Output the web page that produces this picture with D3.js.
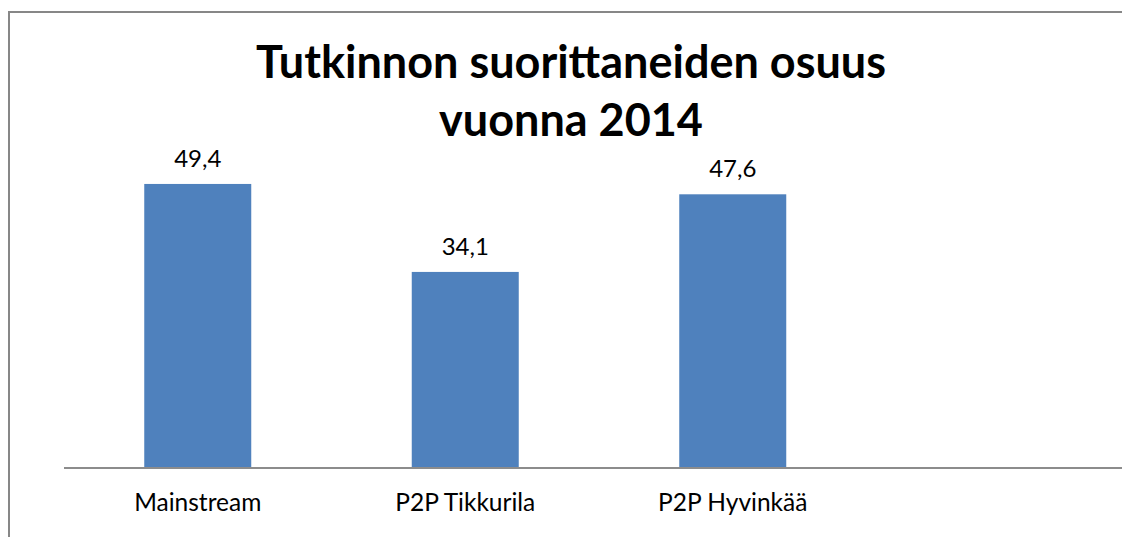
<!DOCTYPE html>
<html>
<head>
<meta charset="utf-8">
<script src="https://cdn.jsdelivr.net/npm/d3@7"></script>
<style>
  html, body { margin: 0; padding: 0; background: #fff; overflow: hidden; }
  svg { display: block; }
  .x.axis text { font-family: Lato, "Open Sans", sans-serif; font-size: 24.5px; fill: #000; }
</style>
</head>
<body>
<div class="chart"></div>
<script>
var categories = ["Mainstream", "P2P Tikkurila", "P2P Hyvinkää", ""];
var values = [49.4, 34.1, 47.6, null];
var valueLabels = ["49,4", "34,1", "47,6", ""];
var titleLines = ["Tutkinnon suorittaneiden osuus", "vuonna 2014"];

var width = 1122;
var height = 537;
var left = 64;
var baseline = 468;

var canvas = d3.select(".chart")
    .append("svg")
    .attr("width", width)
    .attr("height", height)

// chart frame: only top and left edges are inside the picture
canvas.append("line")
    .attr("x1", 9).attr("y1", 11)
    .attr("x2", 9).attr("y2", height)
    .attr("stroke", "#878787")
    .attr("stroke-width", 2);

canvas.append("line")
    .attr("x1", 8).attr("y1", 12)
    .attr("x2", width).attr("y2", 12)
    .attr("stroke", "#878787")
    .attr("stroke-width", 2);

var x = d3.scaleBand()
    .range([left, left + 4 * 267.5])
    .domain(categories)
    .paddingInner(0.6)
    .paddingOuter(0.3)

var y = d3.scaleLinear()
    .domain([0, 60])
    .range([baseline, 123])

var bars = canvas.selectAll(".bar")
    .data(values.map(function(v, i) { return { cat: categories[i], value: v, label: valueLabels[i] }; })
        .filter(function(d) { return d.value != null; }))

bars.enter().append("rect")
    .attr("class", "bar")
    .attr("x", function(d) { return x(d.cat); })
    .attr("y", function(d) { return y(d.value); })
    .attr("width", x.bandwidth())
    .attr("height", function(d) { return baseline - y(d.value); })
    .attr("fill", "#4F81BD");

bars.enter().append("text")
    .attr("x", function(d) { return x(d.cat) + x.bandwidth() / 2; })
    .attr("y", function(d) { return y(d.value) - 17; })
    .style("text-anchor", "middle")
    .style("font-family", "Lato, 'Open Sans', sans-serif")
    .style("font-size", "24px")
    .text(function(d) { return d.label; });

var xAxis = d3.axisBottom(x).tickSize(0).tickPadding(26);

var gx = canvas.append("g")
    .attr("class", "x axis")
    .attr("transform", "translate(0, " + baseline + ")")
    .call(xAxis);

gx.select(".domain")
    .attr("stroke", "#8c8c8c")
    .attr("stroke-width", 2)
    .attr("d", "M" + left + ",0H" + width);

canvas.append("text")
    .attr("x", 571)
    .attr("y", 78)
    .style("text-anchor", "middle")
    .style("font-family", "Lato, 'Open Sans', sans-serif")
    .style("font-weight", "bold")
    .style("font-size", "45px")
    .selectAll("tspan")
    .data(titleLines)
    .enter().append("tspan")
    .attr("x", 571)
    .attr("dy", function(d, i) { return i ? 58 : 0; })
    .text(function(d) { return d; });
</script>
</body>
</html>
